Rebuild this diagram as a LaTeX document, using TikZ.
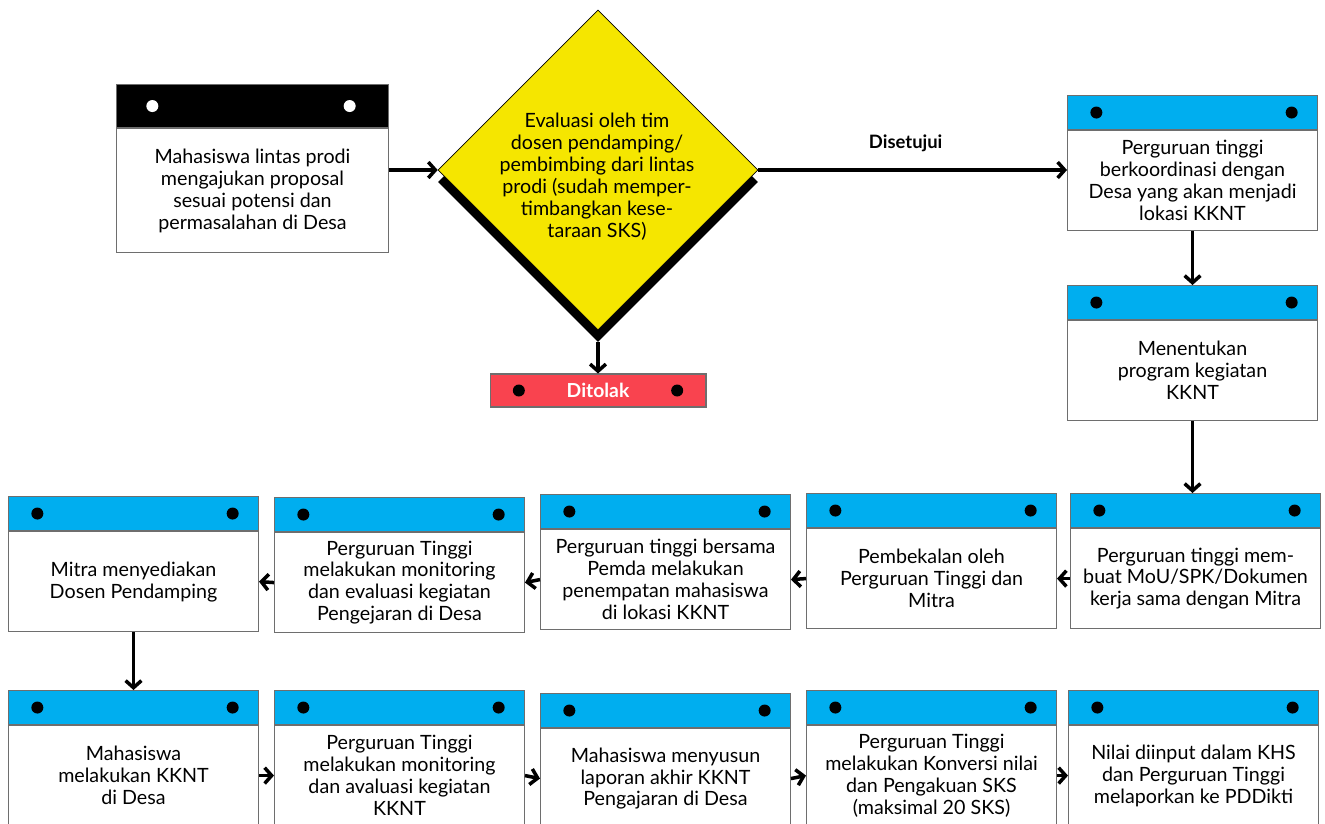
\documentclass[tikz,border=0pt]{standalone}
\usepackage{fontspec}
\setmainfont{Lato}
\usepackage{xcolor}
\usetikzlibrary{arrows.meta,shapes.geometric,positioning}
\definecolor{biru}{RGB}{0,174,239}
\definecolor{kuning}{RGB}{245,230,0}
\definecolor{merah}{RGB}{249,67,79}
\definecolor{garis}{RGB}{110,110,110}

\tikzset{
  kepala/.style={draw=garis, line width=0.6pt, fill=biru, minimum width=5cm, minimum height=0.68cm, inner sep=0pt, anchor=north west},
  badan/.style={draw=garis, line width=0.6pt, fill=white, minimum width=5cm, minimum height=2cm, inner sep=0pt, align=center, anchor=north, font=\fontsize{11.2}{12.5}\selectfont},
  titik/.style={circle, fill=black, inner sep=0pt, minimum size=0.24cm},
  panah/.style={line width=2pt, -{Straight Barb[length=4pt,width=9pt,line width=2pt]}},
}

% kartu: nama, kiri, atas, teks
\newcommand{\kotak}[4]{%
  \node[kepala] (#1k) at (#2,#3) {};
  \node[badan] (#1) at (#1k.south) {#4};
  \node[titik, right=0.46cm of #1k.west] (#1ka) {};
  \node[titik, left=0.4cm of #1k.east] (#1kb) {};
}

\begin{document}
\begin{tikzpicture}[x=0.02cm, y=-0.02cm]
\useasboundingbox (0,0) rectangle (1325,823);
\clip (0,0) rectangle (1325,823);

% usulan
\node[kepala, fill=black, minimum width=5.44cm, minimum height=0.86cm] (usulk) at (116,84) {};
\node[badan, minimum width=5.44cm, minimum height=2.48cm] (usul) at (usulk.south) {Mahasiswa lintas prodi\\mengajukan proposal\\sesuai potensi dan\\permasalahan di Desa};
\node[titik, fill=white, right=0.6cm of usulk.west] (usulka) {};
\node[titik, fill=white, left=0.66cm of usulk.east] (usulkb) {};

% evaluasi
\node[diamond, fill=black, minimum width=6.4cm, minimum height=6.4cm, inner sep=0pt] (bayang) at (598,182) {};
\node[diamond, draw=black, line width=0.4pt, fill=kuning, minimum width=6.4cm, minimum height=6.4cm, inner sep=0pt] (evaluasi) at (598,170) {};
\node[align=center, font=\fontsize{11.2}{12.5}\selectfont] (evaluasit) at (597,177) {Evaluasi oleh tim\\dosen pendamping/\\pembimbing dari lintas\\prodi (sudah memper-\\timbangkan kese-\\taraan SKS)};

\node[draw=garis, line width=0.6pt, fill=merah, minimum width=4.32cm, minimum height=0.66cm, text=white, font=\fontsize{11}{12.5}\selectfont\bfseries] (tolak) at (598,390.5) {Ditolak};
\node[titik, right=0.46cm of tolak.west] (tolaka) {};
\node[titik, left=0.46cm of tolak.east] (tolakb) {};

% kolom kanan
\kotak{koor}{1067}{95}{Perguruan tinggi\\berkoordinasi dengan\\Desa yang akan menjadi\\lokasi KKNT}
\kotak{program}{1067}{285}{Menentukan\\program kegiatan\\KKNT}

% baris 2
\kotak{mou}{1070}{493}{Perguruan tinggi mem-\\buat MoU/SPK/Dokumen\\kerja sama dengan Mitra}
\kotak{bekal}{806}{493}{Pembekalan oleh\\Perguruan Tinggi dan\\Mitra}
\kotak{tempat}{540}{494}{Perguruan tinggi bersama\\Pemda melakukan\\penempatan mahasiswa\\di lokasi KKNT}
\kotak{monev}{274}{497}{Perguruan Tinggi\\melakukan monitoring\\dan evaluasi kegiatan\\Pengejaran di Desa}
\kotak{mitra}{8}{496}{Mitra menyediakan\\Dosen Pendamping}

% baris 3
\kotak{kkn}{8}{690}{Mahasiswa\\melakukan KKNT\\di Desa}
\kotak{monevb}{274}{690}{Perguruan Tinggi\\melakukan monitoring\\dan avaluasi kegiatan\\KKNT}
\kotak{laporan}{540}{693}{Mahasiswa menyusun\\laporan akhir KKNT\\Pengajaran di Desa}
\kotak{konversi}{806}{690}{Perguruan Tinggi\\melakukan Konversi nilai\\dan Pengakuan SKS\\(maksimal 20 SKS)}
\kotak{nilai}{1068}{690}{Nilai diinput dalam KHS\\dan Perguruan Tinggi\\melaporkan ke PDDikti}

% panah
\draw[panah] (usul.east |- evaluasi.west) -- (evaluasi.west);
\draw[panah] (evaluasi.east) -- (evaluasi.east -| koor.west) node[midway, above=0.22cm, xshift=-0.14cm, font=\fontsize{10.5}{12}\selectfont\bfseries] (setuju) {Disetujui};
\draw[panah] (bayang.south) -- (tolak.north);
\draw[panah] (koor.south) -- (programk.north);
\draw[panah] (program.south) -- (program.south |- mouk.north);
\draw[panah] (mou.west) -- (bekal.east);
\draw[panah] (bekal.west) -- (tempat.east);
\draw[panah] (tempat.west) -- (monev.east);
\draw[panah] (monev.west) -- (mitra.east);
\draw[panah] (mitra.south) -- (kknk.north);
\draw[panah] (kkn.east) -- (monevb.west);
\draw[panah] (monevb.east) -- (laporan.west);
\draw[panah] (laporan.east) -- (konversi.west);
\draw[panah] (konversi.east) -- (nilai.west);
\end{tikzpicture}
\end{document}
